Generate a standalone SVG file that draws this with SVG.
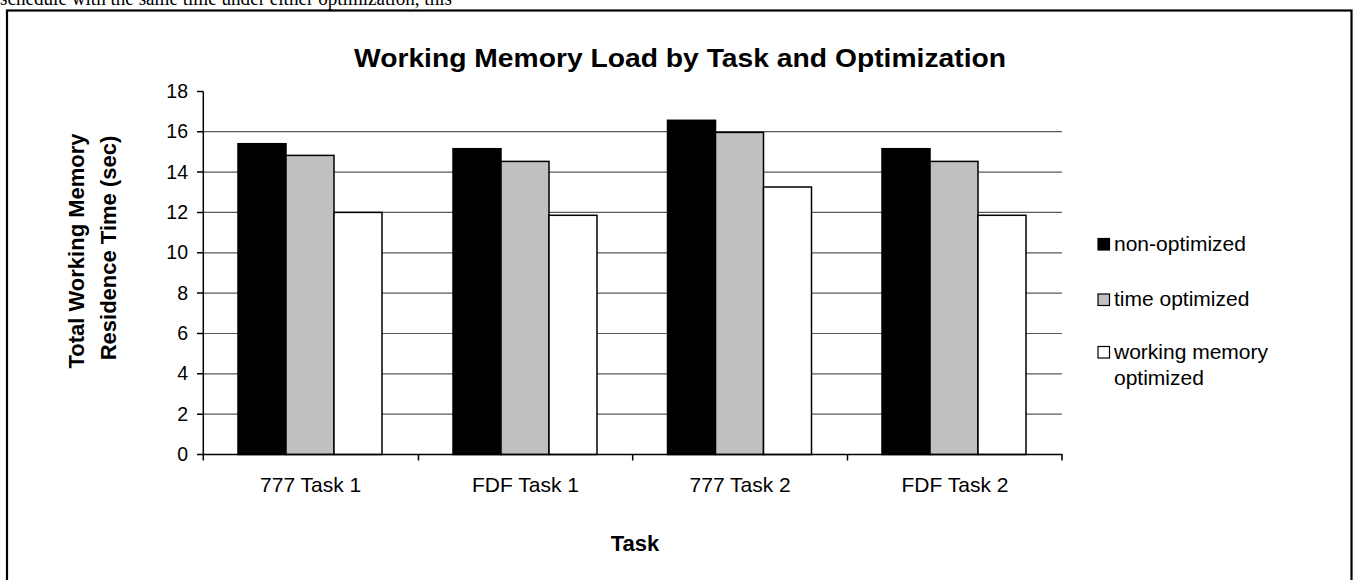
<svg xmlns="http://www.w3.org/2000/svg" width="1353" height="580" viewBox="0 0 1353 580">
<style>
.t{font-family:"Liberation Sans",Arial,sans-serif;fill:#000}
.b{font-weight:bold}
.grid{stroke:#5a5a5a;stroke-width:1.2}
.ax{stroke:#000;stroke-width:1.5;fill:none}
.bar{stroke:#000;stroke-width:1.5}
.k{fill:#000}.g{fill:#c0c0c0}.w{fill:#fff}
.lb{stroke:#000;stroke-width:1.2}
</style>
<rect width="1353" height="580" fill="#fff"/>
<text x="0" y="5" font-family="'Liberation Serif','Times New Roman',serif" font-size="20" textLength="452" lengthAdjust="spacingAndGlyphs">schedule with the same time under either optimization, this</text>
<rect id="frame" x="7" y="10.5" width="1344.5" height="600" fill="#fff" stroke="#000" stroke-width="2.2"/>
<text id="title" class="t b" x="354" y="67" font-size="25" textLength="652" lengthAdjust="spacingAndGlyphs">Working Memory Load by Task and Optimization</text>
<g id="grid">
<line class="grid" x1="203.3" y1="414.2" x2="1062" y2="414.2"/>
<line class="grid" x1="203.3" y1="373.8" x2="1062" y2="373.8"/>
<line class="grid" x1="203.3" y1="333.5" x2="1062" y2="333.5"/>
<line class="grid" x1="203.3" y1="293.1" x2="1062" y2="293.1"/>
<line class="grid" x1="203.3" y1="252.8" x2="1062" y2="252.8"/>
<line class="grid" x1="203.3" y1="212.4" x2="1062" y2="212.4"/>
<line class="grid" x1="203.3" y1="172.1" x2="1062" y2="172.1"/>
<line class="grid" x1="203.3" y1="131.7" x2="1062" y2="131.7"/>
</g>
<g id="bars">
<rect class="bar k" x="238" y="143.7" width="48" height="310.8"/>
<rect class="bar g" x="286" y="155.4" width="48" height="299.1"/>
<rect class="bar w" x="334" y="212.4" width="48" height="242.1"/>
<rect class="bar k" x="453" y="148.7" width="48" height="305.8"/>
<rect class="bar g" x="501" y="161.4" width="48" height="293.1"/>
<rect class="bar w" x="549" y="215.3" width="48" height="239.2"/>
<rect class="bar k" x="667.5" y="120.3" width="48" height="334.2"/>
<rect class="bar g" x="715.5" y="132.4" width="48" height="322.1"/>
<rect class="bar w" x="763.5" y="187" width="48" height="267.5"/>
<rect class="bar k" x="882" y="148.7" width="48" height="305.8"/>
<rect class="bar g" x="930" y="161.4" width="48" height="293.1"/>
<rect class="bar w" x="978" y="215.3" width="48" height="239.2"/>
</g>
<g id="axes">
<path class="ax" d="M203.3 91.4V454.5H1062.5"/>
<path class="ax" d="M197 91.4H203.3M197 131.7H203.3M197 172.1H203.3M197 212.4H203.3M197 252.8H203.3M197 293.1H203.3M197 333.5H203.3M197 373.8H203.3M197 414.2H203.3M197 454.5H203.3"/>
<path class="ax" d="M203.3 454.5V460.5M418.5 454.5V460.5M632.7 454.5V460.5M847.5 454.5V460.5M1062 454.5V460.5"/>
</g>
<g id="yticks" class="t" font-size="19.5" text-anchor="end">
<text x="188" y="98">18</text>
<text x="188" y="138.3">16</text>
<text x="188" y="178.7">14</text>
<text x="188" y="219">12</text>
<text x="188" y="259.4">10</text>
<text x="188" y="299.7">8</text>
<text x="188" y="340.1">6</text>
<text x="188" y="380.4">4</text>
<text x="188" y="420.8">2</text>
<text x="188" y="461.1">0</text>
</g>
<g id="xlabels" class="t" font-size="21" text-anchor="middle">
<text x="310.7" y="491.5">777 Task 1</text>
<text x="525.5" y="491.5">FDF Task 1</text>
<text x="740.2" y="491.5">777 Task 2</text>
<text x="955" y="491.5">FDF Task 2</text>
</g>
<text id="xtitle" class="t b" x="635" y="551" font-size="22" text-anchor="middle">Task</text>
<g id="ytitle" class="t b" font-size="22" text-anchor="middle">
<text transform="translate(84,251) rotate(-90)">Total Working Memory</text>
<text transform="translate(116,248) rotate(-90)">Residence Time (sec)</text>
</g>
<g id="legend" class="t" font-size="21">
<rect class="lb" x="1098" y="238.5" width="11.5" height="11.5" fill="#000"/>
<text x="1114" y="251">non-optimized</text>
<rect class="lb" x="1098" y="294" width="11.5" height="11.5" fill="#c0c0c0"/>
<text x="1114" y="306">time optimized</text>
<rect class="lb" x="1098" y="346.5" width="11.5" height="11.5" fill="#fff"/>
<text x="1114" y="358.5">working memory</text>
<text x="1114" y="385">optimized</text>
</g>
</svg>
